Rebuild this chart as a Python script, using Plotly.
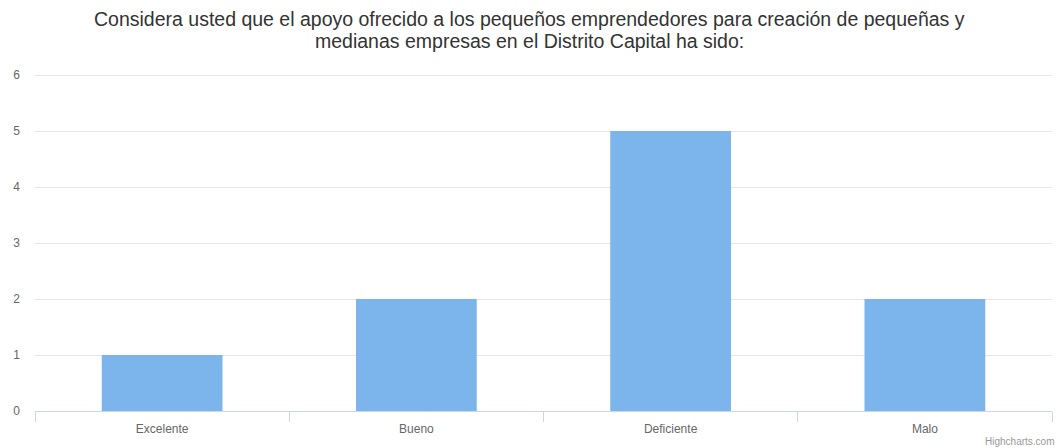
import plotly.graph_objects as go

# Survey responses
categorias = ["Excelente", "Bueno", "Deficiente", "Malo"]
respuestas = [1, 2, 5, 2]
y_ticks = [0, 1, 2, 3, 4, 5, 6]

titulo_lineas = [
    "Considera usted que el apoyo ofrecido a los pequeños emprendedores para creación de pequeñas y",
    "medianas empresas en el Distrito Capital ha sido:",
]

ANCHO, ALTO = 1058, 448
MARGEN = dict(l=35, r=6, t=74, b=37)

fig = go.Figure(
    go.Bar(
        x=categorias,
        y=respuestas,
        marker=dict(color="#7cb5ec", line=dict(width=0)),
        hoverinfo="x+y",
    )
)

# Title drawn line by line for tight line spacing, centred on the whole chart
centro_x = (ANCHO / 2 - MARGEN["l"]) / (ANCHO - MARGEN["l"] - MARGEN["r"])
anotaciones = []
for i, linea in enumerate(titulo_lineas):
    anotaciones.append(
        dict(
            text=linea,
            xref="paper",
            yref="paper",
            x=centro_x,
            y=1,
            yshift=55 - 22 * i,
            xanchor="center",
            yanchor="middle",
            showarrow=False,
            font=dict(size=19.5, color="#333333"),
        )
    )

# Credits
anotaciones.append(
    dict(
        text="Highcharts.com",
        xref="paper",
        yref="paper",
        x=1,
        y=0,
        xshift=4,
        yshift=-30,
        xanchor="right",
        yanchor="middle",
        showarrow=False,
        font=dict(size=10, color="#999999"),
    )
)

fig.update_layout(
    width=ANCHO,
    height=ALTO,
    margin=MARGEN,
    paper_bgcolor="white",
    plot_bgcolor="white",
    bargap=0.525,
    showlegend=False,
    font=dict(family="Liberation Sans, Arial, sans-serif", color="#666666", size=12),
    xaxis=dict(
        type="category",
        showgrid=False,
        showline=True,
        linecolor="#ccd6eb",
        linewidth=1,
        ticks="outside",
        tickson="boundaries",
        ticklen=10,
        tickcolor="#ccd6eb",
        ticklabelstandoff=7,
        tickfont=dict(size=12, color="#666666"),
        fixedrange=True,
    ),
    yaxis=dict(
        range=[0, 6.02],
        tickvals=y_ticks,
        showgrid=True,
        gridcolor="#e6e6e6",
        gridwidth=1,
        zeroline=False,
        showline=False,
        ticks="",
        ticklabelstandoff=14,
        tickfont=dict(size=12, color="#666666"),
        fixedrange=True,
    ),
    annotations=anotaciones,
)

fig.write_html("out.html")
